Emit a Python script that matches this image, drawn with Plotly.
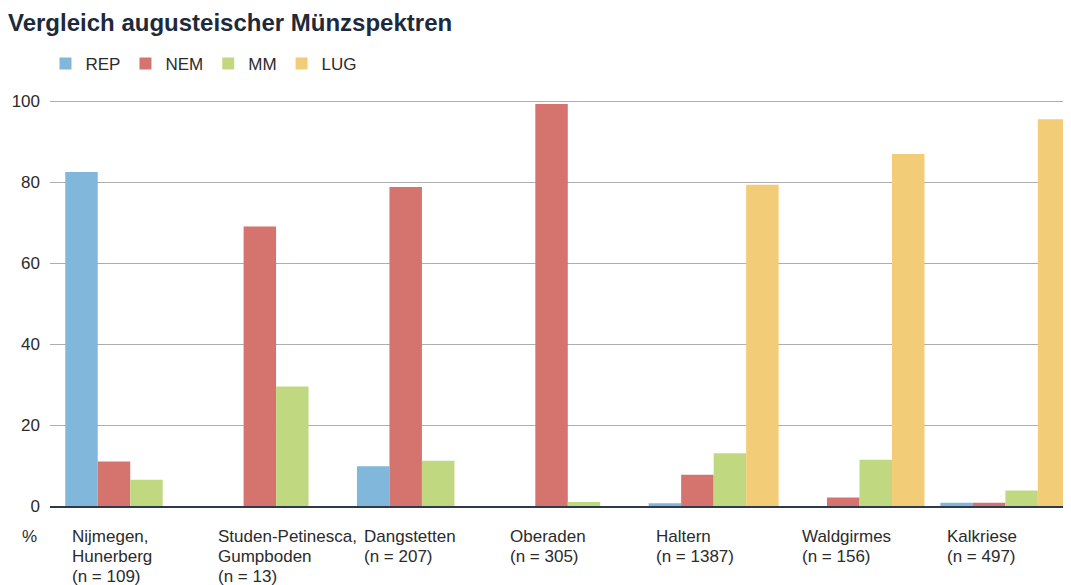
import plotly.graph_objects as go

# ---- data ----
sites = ["Nijmegen, Hunerberg", "Studen-Petinesca, Gumpboden", "Dangstetten",
         "Oberaden", "Haltern", "Waldgirmes", "Kalkriese"]
n_values = [109, 13, 207, 305, 1387, 156, 497]
series_names = ["REP", "NEM", "MM", "LUG"]
REP = [82.5, 0, 9.8, 0, 0.7, 0, 0.8]
NEM = [11.0, 69.0, 78.8, 99.3, 7.7, 2.1, 0.8]
MM = [6.5, 29.5, 11.2, 1.0, 13.0, 11.4, 3.8]
LUG = [0, 0, 0, 0, 79.3, 86.9, 95.5]
y_ticks = [0, 20, 40, 60, 80, 100]

colors = ["#80b7db", "#d5746e", "#c0d981", "#f3cc78"]
FONT = "Liberation Sans, Arial, sans-serif"
TXT = "#2b2b2b"

fig = go.Figure()
for name, vals, col in zip(series_names, [REP, NEM, MM, LUG], colors):
    fig.add_trace(go.Bar(x=sites, y=vals, name=name, marker_color=col,
                         marker_line_width=0))

# category labels (left aligned, one annotation per line)
for site, n in zip(sites, n_values):
    lines = site.replace(", ", ",\n").split("\n") + [f"(n = {n})"]
    for k, line in enumerate(lines):
        fig.add_annotation(x=site, xref="x", y=0, yref="paper", text=line,
                           showarrow=False, xanchor="left", yanchor="middle",
                           align="left", xshift=-60, yshift=-30 - 20 * k,
                           font=dict(family=FONT, size=17, color=TXT))
fig.add_annotation(x=-30 / 1021, xref="paper", y=0, yref="paper", text="%",
                   showarrow=False, xanchor="left", yanchor="middle",
                   yshift=-30, font=dict(family=FONT, size=17, color=TXT))

fig.update_layout(
    width=1071, height=585,
    margin=dict(l=42, r=8, t=89, b=87, autoexpand=False),
    paper_bgcolor="white", plot_bgcolor="white",
    barmode="group", bargap=0.109, bargroupgap=0,
    title=dict(text="<b>Vergleich augusteischer Münzspektren</b>",
               xref="container", x=0, xanchor="left",
               yref="container", y=1 - 14.5 / 585, yanchor="middle",
               pad=dict(l=0, r=0, t=0, b=0),
               font=dict(family=FONT, size=24, color="#1e2a3a")),
    legend=dict(orientation="h", xref="container", x=0.035, xanchor="left",
                yref="container", y=1 - 56 / 585, yanchor="middle",
                font=dict(family=FONT, size=17, color=TXT),
                bgcolor="rgba(0,0,0,0)", itemclick=False),
    xaxis=dict(type="category", range=[-0.55, 6.45], showticklabels=False,
               showgrid=False, showline=True, linecolor="#2c3a4c",
               linewidth=2, ticks="", zeroline=False, fixedrange=True),
    yaxis=dict(range=[0, 101], tickvals=y_ticks, showgrid=True,
               gridcolor="#adadad", gridwidth=1, zeroline=False,
               ticks="", ticklabelstandoff=9,
               tickfont=dict(family=FONT, size=17, color=TXT)),
    font=dict(family=FONT, color=TXT),
)

fig.write_html("out.html")
